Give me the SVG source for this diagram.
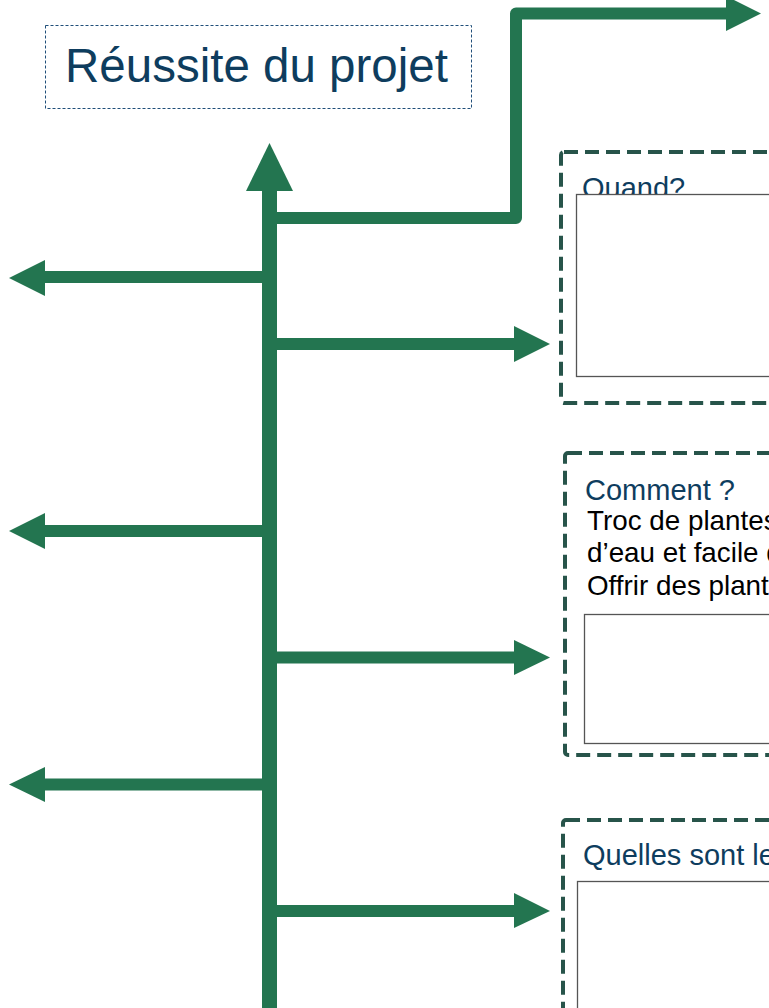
<svg xmlns="http://www.w3.org/2000/svg" width="769" height="1008" viewBox="0 0 769 1008">
<style>
.ln{stroke:#237550;stroke-width:12;fill:none;stroke-linejoin:round}
.hd{fill:#237550}
.box{fill:#ffffff;stroke:#27544a;stroke-width:4;stroke-dasharray:14 7}
.inner{fill:#ffffff;stroke:#555555;stroke-width:1.3}
.q{font-family:"Liberation Sans",Arial,sans-serif;font-size:29px;fill:#0e3d5e}
.b{font-family:"Liberation Sans",Arial,sans-serif;font-size:27.8px;fill:#000000}
</style>
<rect width="769" height="1008" fill="#ffffff"/>
<g id="connectors">
<line x1="269.5" y1="1008" x2="269.5" y2="188" stroke="#237550" stroke-width="15"/>
<polygon class="hd" points="269.5,143 293,191 246,191"/>
<path class="ln" d="M276 218 H516 V13.5 H728"/>
<polygon class="hd" points="726,-4 761,13.5 726,31"/>
<path class="ln" d="M263 277 H44"/>
<polygon class="hd" points="9,278 45,260 45,296"/>
<path class="ln" d="M263 531 H44"/>
<polygon class="hd" points="9,531 45,513 45,549"/>
<path class="ln" d="M263 784.5 H44"/>
<polygon class="hd" points="9,784.5 45,767 45,802"/>
<path class="ln" d="M276 344 H516"/>
<polygon class="hd" points="514,326 550,344 514,362"/>
<path class="ln" d="M276 657.5 H516"/>
<polygon class="hd" points="514,640 550,657.5 514,675"/>
<path class="ln" d="M276 911 H516"/>
<polygon class="hd" points="514,893 550,911 514,928"/>
</g>
<g id="title">
<rect x="45.5" y="25.5" width="426" height="83" fill="#ffffff" stroke="#1f4e79" stroke-width="1" stroke-dasharray="3 2"/>
<text x="65" y="82" font-family="Liberation Sans, Arial, sans-serif" font-size="47.5" fill="#0e3d5e">Réussite du projet</text>
</g>
<g id="box-quand">
<rect class="box" x="561" y="152" width="400" height="251" rx="3"/>
<text class="q" x="582" y="198">Quand?</text>
<rect class="inner" x="576.5" y="194.5" width="400" height="182"/>
</g>
<g id="box-comment">
<rect class="box" x="565" y="453" width="400" height="302" rx="3"/>
<text class="q" x="585" y="500">Comment ?</text>
<text class="b" x="587" y="530">Troc de plantes</text>
<text class="b" x="587" y="562">d’eau et facile d</text>
<text class="b" x="587" y="595">Offrir des plants</text>
<rect class="inner" x="584.5" y="614.5" width="400" height="129"/>
</g>
<g id="box-quelles">
<rect class="box" x="563" y="820" width="400" height="300" rx="3"/>
<text class="q" x="583" y="865">Quelles sont les</text>
<rect class="inner" x="577.5" y="881.5" width="400" height="200"/>
</g>
</svg>
